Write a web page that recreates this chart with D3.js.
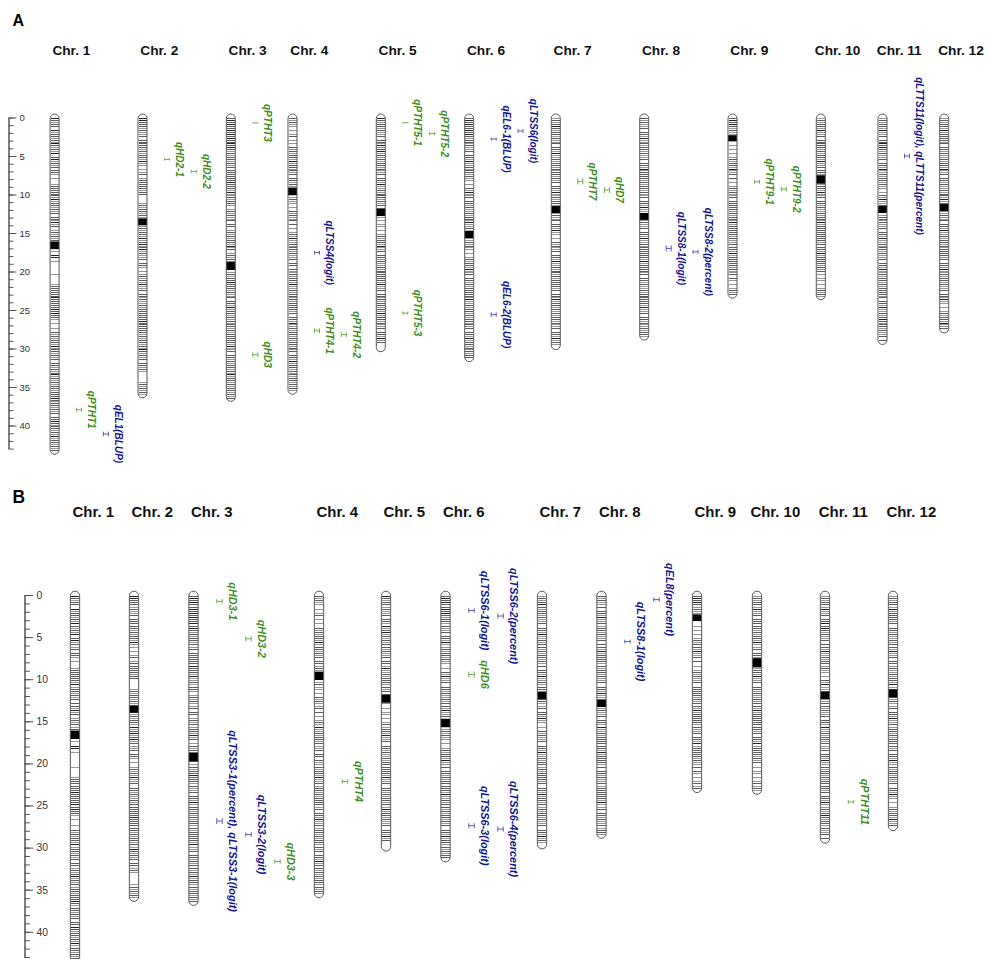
<!DOCTYPE html>
<html>
<head>
<meta charset="utf-8">
<script src="https://cdn.jsdelivr.net/npm/d3@7"></script>
<style>
  body { margin: 0; background: #fff; }
  text { font-family: "Liberation Sans", Arial, sans-serif; }
</style>
</head>
<body>
<svg id="chart" width="989" height="959"></svg>
<script>
// chromosome data (Mb)
const chromosomes = ["Chr. 1", "Chr. 2", "Chr. 3", "Chr. 4", "Chr. 5", "Chr. 6",
                     "Chr. 7", "Chr. 8", "Chr. 9", "Chr. 10", "Chr. 11", "Chr. 12"];
const chromLengths = [43.27, 35.94, 36.41, 35.50, 29.96, 31.25, 29.70, 28.44, 23.01, 23.21, 29.02, 27.53];
const centromeres = [[16.1, 17.1], [13.1, 14.0], [18.7, 19.8], [9.1, 10.1], [11.8, 12.8], [14.7, 15.7],
                     [11.5, 12.4], [12.4, 13.3], [2.3, 3.1], [7.5, 8.6], [11.5, 12.4], [11.2, 12.2]];

// marker density, one digit per 0.25 Mb bin (0 none, 1 light, 2 grey, 3 dark)
const bandStep = 0.25;
const markerBands = [
  "3212 2031 2212 1321 2130 2312 1202 2101 0012 2222 2131 2212 1202 2131 2012 1212 2000 0103 3010 0000 0100 0012 2222 2322 2223 2322 1010 0102 1212 2131 2212 1202 2121 2312 1212 2122 2321 2212 1202 2321 2212 1312 2121 2",
  "3322 2121 1202 2222 1212 2131 1010 1201 2222 2122 0000 1212 2121 0000 1212 2131 2312 3121 1202 2101 0121 2131 1202 2121 1212 2222 2322 2222 1212 2121 3212 1202 2121 0000 0121 2121",
  "2323 2232 3232 2323 2121 2212 1202 2222 2322 2131 1212 2101 2121 1202 2012 1212 2131 2012 1200 0000 1212 2322 2121 1202 2131 2212 1212 2121 2222 2131 1202 2121 2212 1312 2121 2212 12",
  "2121 1010 1201 0102 1212 2131 2212 1202 2121 2000 0121 1010 2121 1202 0101 2131 1212 2121 1202 2021 1212 2131 1212 2121 2222 1202 2131 1212 2121 2212 1202 2131 2212 1212 2121 21",
  "3212 2121 1202 2131 2312 1212 2121 1202 2131 1212 2212 1200 0001 0101 1010 1212 2131 1202 2121 1212 2222 2131 1202 2121 2212 1312 2121 1202 2131 2",
  "2323 2232 3212 2121 1202 2131 1212 2121 1010 2131 1202 2121 1212 2131 1200 0001 2121 1010 1212 2131 1202 2121 2222 2131 1212 2121 2212 1202 2131 2212 1212 2",
  "1212 3212 2121 1202 2131 1212 2121 2212 1202 2131 1212 2100 0121 1202 2131 1010 2121 1202 2131 1212 2121 2222 1202 2131 2212 1212 2121 1202 2131 21",
  "2121 1202 2131 1212 2121 1202 2131 2222 1212 2121 1202 2131 1000 0121 1202 2131 1212 2222 2131 2222 1202 2121 1212 2222 2131 1202 2121 1212 21",
  "2323 2121 1000 0010 1010 1212 2131 1202 0101 2121 1202 2222 1212 2131 2222 2121 1202 2131 2222 2121 1202 1010 1212 1",
  "1212 2131 1202 2222 1212 2131 1202 2100 0012 2131 1202 2121 1212 2131 2222 2222 1202 2131 2222 1212 0101 1010 1212 1",
  "1212 2131 1202 2323 2121 1202 2131 1212 2121 1010 2131 1200 0012 2121 1202 2131 1212 2121 1202 2131 1212 2121 2222 1202 2131 1212 3212 2121 1202 1",
  "1212 2131 2222 1202 2121 1212 2131 1202 2121 1212 2131 1000 0121 1202 2131 1212 2121 2222 1202 2131 1212 2121 1202 2131 1010 1212 2131 12"
];

const majorTicks = [0, 5, 10, 15, 20, 25, 30, 35, 40];
const axisMax = 43;

// QTL intervals (Mb)
const qtlPanelA = [
  { chr: 1, name: "qPTHT1", lo: 37.7, hi: 38.2 },
  { chr: 1, name: "qEL1(BLUP)", lo: 40.8, hi: 41.4 },
  { chr: 2, name: "qHD2-1", lo: 5.3, hi: 5.6 },
  { chr: 2, name: "qHD2-2", lo: 6.8, hi: 7.2 },
  { chr: 3, name: "qPTHT3", lo: 0.65, hi: 0.75 },
  { chr: 3, name: "qHD3", lo: 30.5, hi: 31.1 },
  { chr: 4, name: "qLTSS4(logit)", lo: 17.3, hi: 17.8 },
  { chr: 4, name: "qPTHT4-1", lo: 27.4, hi: 28.0 },
  { chr: 4, name: "qPTHT4-2", lo: 27.9, hi: 28.5 },
  { chr: 5, name: "qPTHT5-1", lo: 0.6, hi: 0.75 },
  { chr: 5, name: "qPTHT5-2", lo: 1.9, hi: 2.3 },
  { chr: 5, name: "qPTHT5-3", lo: 25.2, hi: 25.6 },
  { chr: 6, name: "qEL6-1(BLUP)", lo: 2.6, hi: 3.0 },
  { chr: 6, name: "qLTSS6(logit)", lo: 1.5, hi: 2.0 },
  { chr: 6, name: "qEL6-2(BLUP)", lo: 25.3, hi: 25.9 },
  { chr: 7, name: "qPTHT7", lo: 7.9, hi: 8.7 },
  { chr: 7, name: "qHD7", lo: 9.0, hi: 9.8 },
  { chr: 8, name: "qLTSS8-1(logit)", lo: 16.6, hi: 17.4 },
  { chr: 8, name: "qLTSS8-2(percent)", lo: 17.2, hi: 17.7 },
  { chr: 9, name: "qPTHT9-1", lo: 8.1, hi: 8.6 },
  { chr: 9, name: "qPTHT9-2", lo: 9.0, hi: 9.6 },
  { chr: 11, name: "qLTTS11(logit), qLTTS11(percent)", lo: 4.7, hi: 5.3 }
];

const qtlPanelB = [
  { chr: 3, name: "qHD3-1", lo: 0.5, hi: 1.0 },
  { chr: 3, name: "qHD3-2", lo: 4.9, hi: 5.5 },
  { chr: 3, name: "qLTSS3-1(percent), qLTSS3-1(logit)", lo: 26.5, hi: 27.2 },
  { chr: 3, name: "qLTSS3-2(logit)", lo: 28.2, hi: 28.7 },
  { chr: 3, name: "qHD3-3", lo: 31.4, hi: 31.9 },
  { chr: 4, name: "qPTHT4", lo: 21.9, hi: 22.4 },
  { chr: 6, name: "qLTSS6-1(logit)", lo: 1.6, hi: 2.1 },
  { chr: 6, name: "qLTSS6-2(percent)", lo: 2.2, hi: 2.8 },
  { chr: 6, name: "qHD6", lo: 9.1, hi: 9.8 },
  { chr: 6, name: "qLTSS6-3(logit)", lo: 27.1, hi: 27.7 },
  { chr: 6, name: "qLTSS6-4(percent)", lo: 27.5, hi: 28.1 },
  { chr: 8, name: "qLTSS8-1(logit)", lo: 5.3, hi: 5.75 },
  { chr: 8, name: "qEL8(percent)", lo: 0.3, hi: 0.8 },
  { chr: 11, name: "qPTHT11", lo: 24.35, hi: 24.8 }
];

// layout
const panels = [
  { letter: "A", qtls: qtlPanelA, top: 117.5, perMb: 7.7, k: 1, letterY: 26, labelY: 55, axisX: 8.5,
    xs: [54.6, 142.5, 230.8, 292.5, 380.8, 469.2, 555.8, 644.2, 732.5, 820.8, 882.5, 944.2],
    lane0: 24.5, laneGap: 26.8, chromW: 9 },
  { letter: "B", qtls: qtlPanelB, top: 595, perMb: 8.42, k: 1.09, letterY: 503, labelY: 517, axisX: 24.5,
    xs: [75, 134, 193.5, 319, 386, 445.5, 542, 601.5, 697, 757, 825, 893],
    lane0: 26, laneGap: 29, chromW: 9.3 }
];

const svg = d3.select("#chart");
const shade = d3.scaleOrdinal().domain(["1", "2", "3"]).range(["#969696", "#5c5c5c", "#222222"]);
const isGrowth = name => /^q(PTHT|HD)/.test(name);
const textColor = name => isGrowth(name) ? "#3f8c1f" : "#14148c";
const markColor = name => isGrowth(name) ? "#6eae50" : "#5a5abe";

panels.forEach(p => {
  const g = svg.append("g");
  const y = d3.scaleLinear().domain([0, axisMax]).range([p.top, p.top + axisMax * p.perMb]);
  const x = d3.scaleOrdinal().domain(chromosomes).range(p.xs);

  g.append("text")
    .attr("x", 12.5).attr("y", p.letterY)
    .style("font-size", (16 * p.k) + "px").style("font-weight", "bold")
    .text(p.letter);

  // scale bar on the left
  const minor = g.append("g").attr("transform", `translate(${p.axisX},0)`)
    .call(d3.axisRight(y).tickValues(d3.range(0, axisMax + 1)).tickSize(5 * p.k).tickSizeOuter(0).tickFormat(""));
  const major = g.append("g").attr("transform", `translate(${p.axisX},0)`)
    .call(d3.axisRight(y).tickValues(majorTicks).tickSize(8 * p.k).tickPadding(3 * p.k).tickSizeOuter(0));
  [minor, major].forEach(a => a.selectAll("path,line").attr("stroke", "#555"));
  major.selectAll("text").attr("fill", "#333").style("font-size", (9.5 * p.k) + "px")
    .style("font-family", "'Liberation Sans', Arial, sans-serif");

  // chromosomes
  chromosomes.forEach((name, i) => {
    const cx = x(name), w = p.chromW, len = chromLengths[i], cap = 3.5 * p.k;
    const cg = g.append("g");
    cg.append("rect")
      .attr("x", cx - w / 2).attr("y", y(0) - cap)
      .attr("width", w).attr("height", y(len) - y(0) + 2 * cap)
      .attr("rx", w / 2).attr("fill", "#fff");

    const bins = markerBands[i].replace(/\s/g, "").split("")
      .map((c, j) => ({ c, pos: j * bandStep + bandStep / 2 }))
      .filter(d => d.c !== "0" && d.pos < len);
    cg.selectAll("line.band").data(bins).enter().append("line")
      .attr("class", "band")
      .attr("x1", cx - w / 2 + 0.5).attr("x2", cx + w / 2 - 0.5)
      .attr("y1", d => Math.round(y(d.pos)) + 0.5).attr("y2", d => Math.round(y(d.pos)) + 0.5)
      .attr("stroke", d => shade(d.c)).attr("stroke-width", 1)
      .attr("shape-rendering", "crispEdges");

    cg.append("rect")
      .attr("x", cx - w / 2).attr("y", y(centromeres[i][0]))
      .attr("width", w).attr("height", y(centromeres[i][1]) - y(centromeres[i][0]))
      .attr("fill", "#000");

    cg.append("rect")
      .attr("x", cx - w / 2).attr("y", y(0) - cap)
      .attr("width", w).attr("height", y(len) - y(0) + 2 * cap)
      .attr("rx", w / 2).attr("fill", "none")
      .attr("stroke", "#555").attr("stroke-width", 1);

    g.append("text")
      .attr("x", cx + 16.8 * p.k).attr("y", p.labelY)
      .attr("text-anchor", "middle")
      .style("font-size", (13.7 * p.k) + "px").style("font-weight", "bold")
      .attr("fill", "#111")
      .text(name);
  });

  // QTLs: lanes picked so that labels do not overlap
  const lanes = {};
  p.qtls.forEach(q => {
    const name = chromosomes[q.chr - 1];
    const mid = (q.lo + q.hi) / 2;
    const label = g.append("text")
      .style("font-size", (10 * p.k) + "px")
      .style("font-weight", "bold").style("font-style", "italic")
      .attr("text-anchor", "middle")
      .attr("fill", textColor(q.name))
      .text(q.name);
    const L = label.node().getComputedTextLength();
    const ext = [y(mid) - L / 2 - 3, y(mid) + L / 2 + 3];
    const used = lanes[name] || (lanes[name] = []);
    let lane = 0;
    while (used[lane] && used[lane].some(e => e[0] < ext[1] && ext[0] < e[1])) lane++;
    (used[lane] = used[lane] || []).push(ext);

    const mx = x(name) + (p.lane0 + lane * p.laneGap);
    label.attr("transform", `translate(${mx + 9 * p.k},${y(mid)}) rotate(90)`);

    const hw = 2.5 * p.k, col = markColor(q.name);
    const mk = g.append("g").attr("stroke", col).attr("stroke-width", 1).attr("fill", "none");
    [-hw, hw].forEach(dx => mk.append("line")
      .attr("x1", mx + dx).attr("x2", mx + dx)
      .attr("y1", y(q.lo)).attr("y2", y(q.hi)));
    mk.append("line")
      .attr("x1", mx - hw).attr("x2", mx + hw)
      .attr("y1", y(mid)).attr("y2", y(mid));
  });
});
</script>
</body>
</html>
